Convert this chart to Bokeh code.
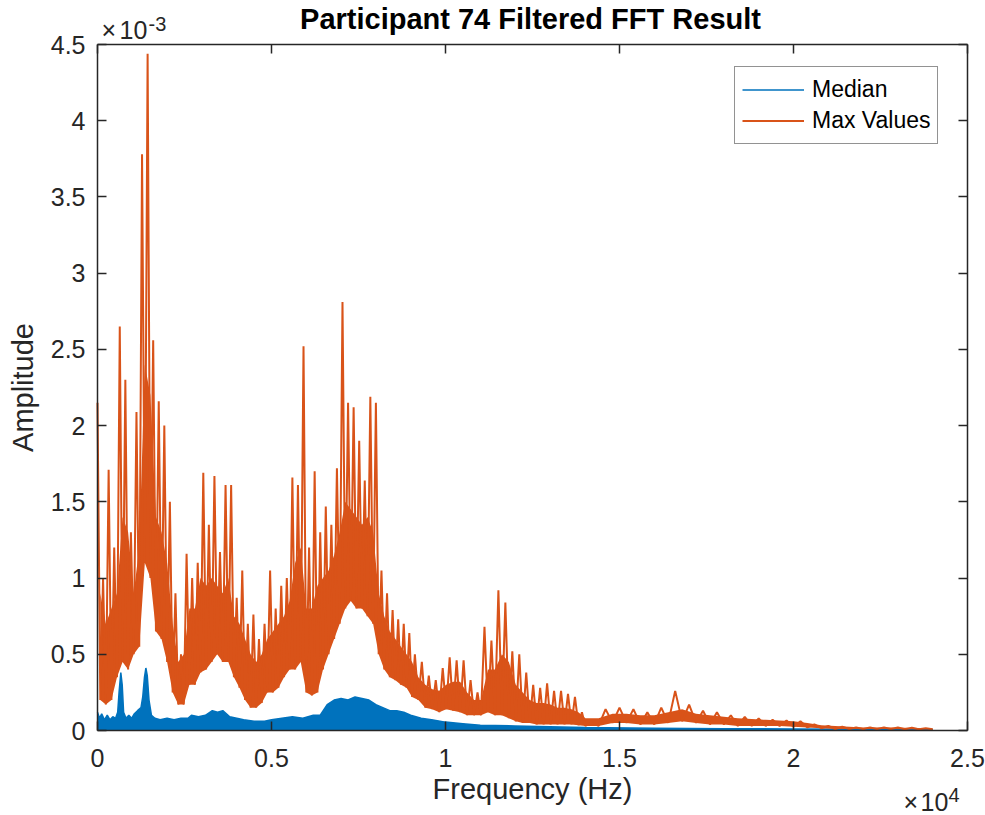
import numpy as np
from bokeh.plotting import figure
from bokeh.models import (LinearAxis, FixedTicker, CustomJSTickFormatter, Label,
                          Legend, LegendItem, Range1d)
from bokeh.embed import file_html
from bokeh.resources import INLINE

# ---------------- data (amplitudes in units of 1e-3) ----------------
# Max Values: spike tops, troughs and the top of the dense band
max_peak_freq_a = np.arange(0, 9000, 160)
max_peak_amp_a = [2.15, 1.0, 1.71, 1.2, 2.65, 2.30, 1.3, 2.09, 3.78, 4.44,
                  2.56, 2.16, 2.0, 1.5, 0.9, 0.5, 1.16, 1.0, 1.1, 1.69,
                  1.35, 1.67, 1.17, 1.61, 1.61, 0.87, 1.05, 0.7, 0.76, 0.6,
                  0.7, 1.05, 0.8, 0.95, 1.0, 1.66, 1.61, 2.52, 1.2, 1.70,
                  1.3, 1.47, 1.35, 1.72, 2.81, 2.15, 2.12, 1.9, 1.64, 2.19,
                  2.15, 1.05, 0.9, 0.79, 0.73, 0.7, 0.64]
max_trough_freq_a = np.arange(80, 9100, 160)
max_trough_amp_a = [0.2, 0.17, 0.2, 0.35, 0.45, 0.4, 0.5, 0.55, 1.1, 1.0,
                    0.65, 0.6, 0.45, 0.25, 0.17, 0.17, 0.3, 0.3, 0.38, 0.4,
                    0.45, 0.5, 0.45, 0.45, 0.35, 0.28, 0.2, 0.15, 0.15, 0.18,
                    0.25, 0.25, 0.28, 0.35, 0.4, 0.4, 0.45, 0.25, 0.23, 0.25,
                    0.4, 0.5, 0.6, 0.7, 0.8, 0.85, 0.8, 0.8, 0.75, 0.7,
                    0.5, 0.4, 0.35, 0.33, 0.3, 0.28, 0.22]
max_band_top_a = [0.9, 0.7, 0.8, 0.9, 1.4, 1.3, 0.9, 1.2, 2.4, 2.2,
                  1.4, 1.3, 1.1, 0.7, 0.45, 0.5, 0.8, 0.8, 1.0, 0.95,
                  1.0, 0.95, 0.9, 1.0, 0.75, 0.7, 0.6, 0.5, 0.45, 0.5,
                  0.6, 0.65, 0.7, 0.75, 0.85, 1.1, 1.2, 0.8, 0.8, 0.95,
                  1.0, 1.05, 1.15, 1.3, 1.5, 1.45, 1.4, 1.35, 1.4, 1.3,
                  0.9, 0.75, 0.65, 0.6, 0.55, 0.5, 0.45]
max_peak_freq_b = np.arange(9120, 14000, 200)
max_peak_amp_b = [0.5, 0.45, 0.36, 0.33, 0.41, 0.48, 0.46, 0.46, 0.33, 0.25,
                  0.68, 0.59, 0.92, 0.84, 0.52, 0.5, 0.38, 0.3, 0.28, 0.31,
                  0.26, 0.26, 0.24, 0.22, 0.12]
max_trough_freq_b = np.arange(9220, 14100, 200)
max_trough_amp_b = [0.2, 0.15, 0.14, 0.12, 0.14, 0.13, 0.12, 0.1, 0.1, 0.1,
                    0.12, 0.1, 0.1, 0.08, 0.06, 0.05, 0.05, 0.04, 0.04, 0.04,
                    0.04, 0.04, 0.04, 0.035, 0.03]
max_band_top_b = [0.35, 0.3, 0.27, 0.26, 0.3, 0.32, 0.32, 0.25, 0.2, 0.2,
                  0.4, 0.4, 0.5, 0.45, 0.3, 0.25, 0.2, 0.18, 0.18, 0.17,
                  0.15, 0.15, 0.14, 0.12, 0.08]
max_peak_freq_c = np.arange(14200, 24000, 400)
max_peak_amp_c = [0.05, 0.14, 0.15, 0.14, 0.12, 0.15, 0.26, 0.17, 0.13, 0.12,
                  0.1, 0.09, 0.08, 0.07, 0.065, 0.06, 0.04, 0.03, 0.025, 0.02,
                  0.02, 0.02, 0.02, 0.018, 0.015]
max_trough_freq_c = np.arange(14400, 24100, 400)
max_trough_amp_c = [0.03, 0.05, 0.05, 0.04, 0.04, 0.05, 0.06, 0.05, 0.04, 0.04,
                    0.03, 0.03, 0.03, 0.03, 0.025, 0.02, 0.015, 0.01, 0.01, 0.01,
                    0.01, 0.01, 0.008, 0.008, 0.008]
max_band_top_c = [0.08, 0.11, 0.11, 0.1, 0.1, 0.12, 0.14, 0.11, 0.1, 0.09,
                  0.08, 0.075, 0.07, 0.065, 0.06, 0.05, 0.035, 0.03, 0.025, 0.02,
                  0.02, 0.02, 0.018, 0.016, 0.012]

# Median: upper edge of the blue band
median_freq = [0, 60, 120, 200, 280, 360, 440, 520, 580, 620, 670, 710, 750,
               820, 900, 980, 1060, 1150, 1250, 1300, 1350, 1390, 1430, 1480,
               1550, 1650, 1800, 2000, 2200, 2400, 2600, 2700, 2900, 3100, 3300,
               3450, 3600, 3800, 4000, 4200, 4500, 4800, 5000, 5300, 5600, 5900,
               6200, 6400, 6600, 6800, 7000, 7200, 7400, 7600, 7800, 8000, 8200,
               8400, 8600, 8800, 9000, 9300, 9600, 10000, 10500, 11000, 12000,
               13000, 14000, 16000, 18000, 20000, 22000, 24000]
median_amp = [0.12, 0.08, 0.11, 0.07, 0.1, 0.07, 0.09, 0.08, 0.12, 0.25, 0.38,
              0.3, 0.12, 0.08, 0.1, 0.08, 0.11, 0.13, 0.15, 0.22, 0.35, 0.41,
              0.36, 0.2, 0.1, 0.08, 0.07, 0.08, 0.07, 0.08, 0.08, 0.1, 0.09,
              0.1, 0.13, 0.12, 0.13, 0.09, 0.08, 0.07, 0.06, 0.06, 0.07, 0.08,
              0.09, 0.08, 0.1, 0.1, 0.17, 0.2, 0.21, 0.2, 0.22, 0.21, 0.2, 0.17,
              0.15, 0.13, 0.13, 0.12, 0.1, 0.08, 0.07, 0.055, 0.045, 0.035,
              0.03, 0.025, 0.02, 0.015, 0.012, 0.01, 0.008, 0.006]

x_tick_values = [0, 5000, 10000, 15000, 20000, 25000]
y_tick_values = [0, 0.5, 1, 1.5, 2, 2.5, 3, 3.5, 4, 4.5]  # x 1e-3
x_limits = (0, 25000)
y_limits = (0, 4.5e-3)

title_text = "Participant 74 Filtered FFT Result"
x_label = "Frequency (Hz)"
y_label = "Amplitude"

# ---------------- assemble ----------------
mf = np.concatenate([max_peak_freq_a, max_trough_freq_a, max_peak_freq_b,
                     max_trough_freq_b, max_peak_freq_c, max_trough_freq_c])
ma = np.concatenate([max_peak_amp_a, max_trough_amp_a, max_peak_amp_b,
                     max_trough_amp_b, max_peak_amp_c, max_trough_amp_c]) * 1e-3
order = np.argsort(mf, kind="stable")
mf, ma = mf[order], ma[order]
band_f = np.concatenate([max_trough_freq_a, max_trough_freq_b, max_trough_freq_c])
band_lo = np.concatenate([max_trough_amp_a, max_trough_amp_b, max_trough_amp_c]) * 1e-3
band_hi = np.concatenate([max_band_top_a, max_band_top_b, max_band_top_c]) * 1e-3
medf = np.array(median_freq, dtype=float)
meda = np.array(median_amp) * 1e-3

BLUE = "#0072BD"
ORANGE = "#D95319"
AX = "#262626"
FONT = "Liberation Sans"

# ---------------- layout: the frame is the whole canvas ----------------
W, H = 985, 815
BOX_L, BOX_R, BOX_T, BOX_B = 97, 967, 44, 730   # axes box in canvas pixels
sx = (x_limits[1] - x_limits[0]) / (BOX_R - BOX_L)
sy = (y_limits[1] - y_limits[0]) / (BOX_B - BOX_T)
x_rng = Range1d(x_limits[0] - BOX_L * sx, x_limits[1] + (W - BOX_R) * sx)
y_rng = Range1d(y_limits[0] - (H - BOX_B) * sy, y_limits[1] + BOX_T * sy)

p = figure(width=W, height=H, output_backend="svg", toolbar_location=None,
           x_range=x_rng, y_range=y_rng,
           min_border_left=0, min_border_right=0, min_border_top=0,
           min_border_bottom=0)
p.title.visible = False
p.background_fill_color = "white"
p.border_fill_color = "white"
p.xgrid.visible = False
p.ygrid.visible = False
p.outline_line_color = None

xt = FixedTicker(ticks=x_tick_values, minor_ticks=[])
yt = FixedTicker(ticks=[round(v * 1e-3, 8) for v in y_tick_values], minor_ticks=[])
xfmt = CustomJSTickFormatter(code="return String(Math.round(tick/1000)/10);")
yfmt = CustomJSTickFormatter(code="return String(Math.round(tick*1e4)/10);")

def style_axis(ax, ticker, fmt, loc, bounds, show):
    ax.ticker = ticker
    ax.formatter = fmt
    ax.fixed_location = loc
    ax.bounds = bounds
    ax.axis_line_color = AX
    ax.axis_line_width = 1.5
    ax.major_tick_line_color = AX
    ax.major_tick_line_width = 1.5
    ax.major_tick_in = 9
    ax.major_tick_out = 0
    ax.minor_tick_line_color = None
    ax.major_label_text_font = FONT
    ax.major_label_text_font_size = "25px"
    ax.major_label_text_color = AX if show else None

xa = p.xaxis[0]
ya = p.yaxis[0]
style_axis(xa, xt, xfmt, y_limits[0], x_limits, True)
style_axis(ya, yt, yfmt, x_limits[0], y_limits, True)
xa.major_label_standoff = 18
ya.major_label_standoff = 12
xa.axis_label = x_label
ya.axis_label = y_label
for ax in (xa, ya):
    ax.axis_label_text_font = FONT
    ax.axis_label_text_font_size = "29px"
    ax.axis_label_text_font_style = "normal"
    ax.axis_label_text_color = AX
xa.axis_label_standoff = 3
ya.axis_label_standoff = 9

top = LinearAxis()
right = LinearAxis()
style_axis(top, xt, xfmt, y_limits[1], x_limits, False)
style_axis(right, yt, yfmt, x_limits[1], y_limits, False)
p.add_layout(top, "above")
p.add_layout(right, "right")

# ---------------- glyphs ----------------
p.varea(x=medf, y1=np.zeros_like(meda), y2=meda, fill_color=BLUE, fill_alpha=1)
med_line = p.line(medf, meda, line_color=BLUE, line_width=1.5)
p.varea(x=band_f, y1=band_lo, y2=band_hi, fill_color=ORANGE, fill_alpha=1)
max_line = p.line(mf, ma, line_color=ORANGE, line_width=2.0)

legend = Legend(items=[LegendItem(label="Median", renderers=[med_line]),
                       LegendItem(label="Max Values", renderers=[max_line])],
                location=(734, H - 144), padding=7, spacing=0,
                glyph_width=62, glyph_height=31, label_height=31,
                label_standoff=8, label_text_font=FONT,
                label_text_font_size="23px", label_text_color="black",
                border_line_color=AX, border_line_width=1,
                background_fill_color="white", background_fill_alpha=1)
p.add_layout(legend)

# title and exponent multipliers (screen units from the canvas bottom-left;
# y gives the vertical middle of each text)
lab_kw = dict(x_units="screen", y_units="screen", text_font=FONT,
              text_baseline="middle")
p.add_layout(Label(x=(BOX_L + BOX_R) / 2 - 2, y=H - 18, text=title_text,
                   text_align="center", text_font_size="29px",
                   text_font_style="bold", text_color="black", **lab_kw))
p.add_layout(Label(x=101, y=H - 29, text="×", text_font_size="25px",
                   text_color=AX, **lab_kw))
p.add_layout(Label(x=119, y=H - 29, text="10", text_font_size="25px",
                   text_color=AX, **lab_kw))
p.add_layout(Label(x=148, y=H - 23, text="-3", text_font_size="20px",
                   text_color=AX, **lab_kw))
p.add_layout(Label(x=903, y=H - 801, text="×", text_font_size="25px",
                   text_color=AX, **lab_kw))
p.add_layout(Label(x=920, y=H - 801, text="10", text_font_size="25px",
                   text_color=AX, **lab_kw))
p.add_layout(Label(x=948, y=H - 794, text="4", text_font_size="20px",
                   text_color=AX, **lab_kw))

open("out.html", "w").write(file_html(p, INLINE))
